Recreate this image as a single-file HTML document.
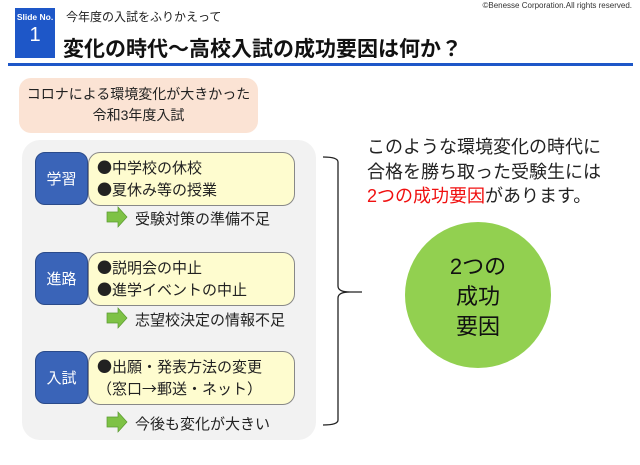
<!DOCTYPE html>
<html><head><meta charset="utf-8"><style>
body{margin:0;width:640px;height:465px;background:#fff;position:relative;overflow:hidden;font-family:"Liberation Sans","Noto Sans CJK JP",sans-serif;color:#222}
.a{position:absolute;white-space:nowrap}
.tag{position:absolute;left:35px;width:53px;height:53px;background:#3a64b8;border:1px solid #2a4a8a;border-radius:10px;color:#fff;font-size:15px;display:flex;align-items:center;justify-content:center;box-sizing:border-box}
.yb{position:absolute;left:88px;width:207px;height:54px;background:#fefccf;border:1px solid #888;border-radius:12px;box-sizing:border-box;font-size:15px;line-height:22px;padding:4px 0 0 8px;white-space:nowrap;font-family:"Noto Sans CJK JP",sans-serif}
</style></head><body>
<div class="a" style="right:8px;top:1px;font-size:8px;color:#333">©Benesse Corporation.All rights reserved.</div>
<div class="a" style="left:15px;top:8px;width:40px;height:50px;background:#1e57c8;color:#fff;text-align:center">
<div style="font-size:8.5px;font-weight:bold;margin-top:4px">Slide No.</div>
<div style="font-size:20px;margin-top:2px">1</div></div>
<div class="a" style="left:66px;top:8px;font-size:12px">今年度の入試をふりかえって</div>
<div class="a" style="left:63px;top:33px;font-size:21px;font-weight:bold;color:#111">変化の時代～高校入試の成功要因は何か？</div>
<div class="a" style="left:8px;top:63px;width:625px;height:3px;background:#1e57c8"></div>
<div class="a" style="left:19px;top:78px;width:239px;height:55px;background:#fbe3d4;border-radius:12px;font-size:14px;line-height:21px;text-align:center;padding-top:6px;box-sizing:border-box">コロナによる環境変化が大きかった<br>令和3年度入試</div>
<div class="a" style="left:22px;top:140px;width:294px;height:300px;background:#f2f2f2;border-radius:18px"></div>

<div class="tag" style="top:152px">学習</div>
<div class="yb" style="top:152px">●中学校の休校<br>●夏休み等の授業</div>
<div class="tag" style="top:252px">進路</div>
<div class="yb" style="top:252px">●説明会の中止<br>●進学イベントの中止</div>
<div class="tag" style="top:351px">入試</div>
<div class="yb" style="top:351px">●出願・発表方法の変更<br>（窓口→郵送・ネット）</div>

<svg class="a" style="left:0;top:0" width="640" height="465">
<g fill="#7ec245" stroke="#5a9a30" stroke-width="0.7">
<polygon points="107,212 118,212 118,207 127,217 118,227 118,222 107,222"/>
<polygon points="107,313 118,313 118,308 127,318 118,328 118,323 107,323"/>
<polygon points="107,417 118,417 118,412 127,422 118,432 118,427 107,427"/>
</g>
<path d="M323,157 Q338,157 338,162 L338,286 Q338,292 350,292 L362,292 M350,292 Q338,292 338,298 L338,420 Q338,425 323,425" fill="none" stroke="#222" stroke-width="1.3"/>
<circle cx="478" cy="295" r="73" fill="#92d050"/>
</svg>
<div class="a" style="left:135px;top:208px;font-size:15px">受験対策の準備不足</div>
<div class="a" style="left:135px;top:309px;font-size:15px">志望校決定の情報不足</div>
<div class="a" style="left:135px;top:413px;font-size:15px">今後も変化が大きい</div>

<div class="a" style="left:367px;top:135px;font-size:18px;line-height:24.5px;color:#222">このような環境変化の時代に<br>合格を勝ち取った受験生には<br><span style="color:#f01010">2つの成功要因</span>があります。</div>
<div class="a" style="left:405px;top:252px;width:146px;text-align:center;font-size:22px;line-height:30px;color:#111">2つの<br>成功<br>要因</div>
</body></html>
